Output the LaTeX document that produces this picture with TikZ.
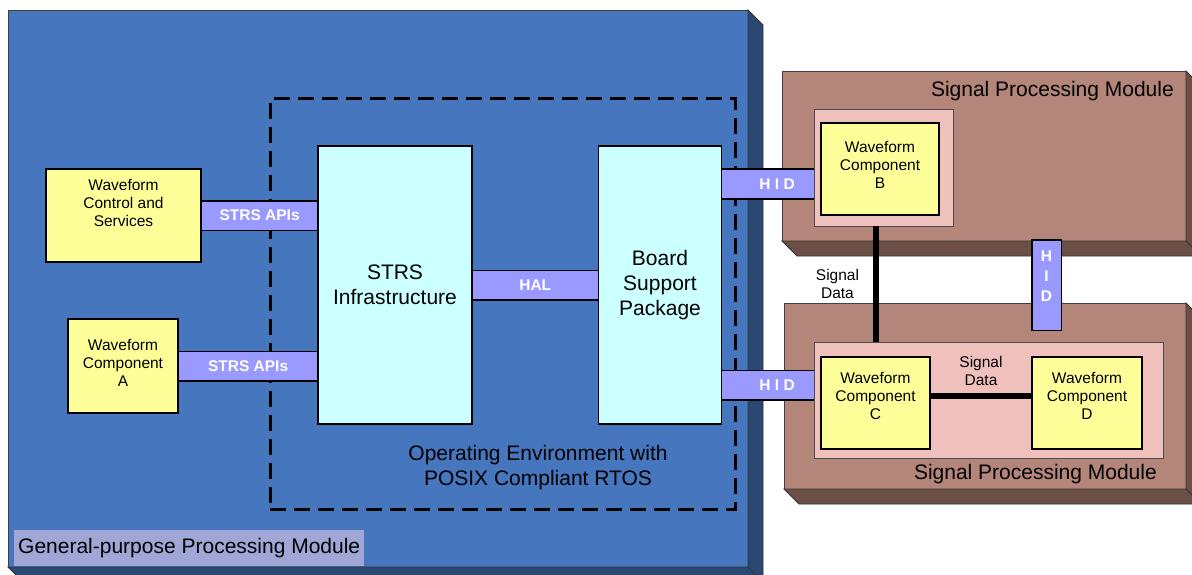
\documentclass[tikz,border=0pt]{standalone}
\usepackage{fontspec}
\setmainfont{Liberation Sans}
\usetikzlibrary{positioning}

\definecolor{gpmblue}{HTML}{4676BE}
\definecolor{gpmdark}{HTML}{2B4873}
\definecolor{gpmtag}{HTML}{A0A6D6}
\definecolor{spmbrown}{HTML}{B4867A}
\definecolor{spmdark}{HTML}{6C4F47}
\definecolor{spmpink}{HTML}{F0C0BC}
\definecolor{wfyellow}{HTML}{FFFF99}
\definecolor{infracyan}{HTML}{CCFFFF}
\definecolor{barblue}{HTML}{9999FF}

\begin{document}
\begin{tikzpicture}[
	x=1pt, y=-1pt,
	module/.style={
		rectangle,
		draw=black!75,
		line width=0.8pt,
		outer sep=0pt,
		inner sep=0pt
	},
	depth/.style={draw=black!80, line width=0.8pt},
	envbox/.style={
		rectangle,
		draw=black,
		line width=3pt,
		dash pattern=on 16pt off 8pt
	},
	holder/.style={rectangle, draw=black!70, fill=spmpink, line width=0.8pt, inner sep=0pt},
	wfbox/.style={rectangle, draw=black, fill=wfyellow, line width=2pt, inner sep=0pt},
	infra/.style={
		rectangle,
		draw=black,
		fill=infracyan,
		line width=1.5pt,
		align=center,
		minimum height=278pt,
		font=\fontsize{21}{25}\selectfont
	},
	smalltext/.style={align=center, inner sep=0pt, font=\fontsize{15.5}{18}\selectfont},
	bigtext/.style={align=center, inner sep=0pt, font=\fontsize{21}{25}\selectfont},
	bar/.style={draw=black, line width=1.5pt, double=barblue, double distance=28pt},
	bartext/.style={text=white, align=center, inner sep=0pt, font=\bfseries\fontsize{15.5}{20}\selectfont},
	sigline/.style={line width=6pt}
]
	\useasboundingbox (0,0) rectangle (1192,575);
	\clip (0,0) rectangle (1192,575);

	% modules
	\node[module, fill=gpmblue, minimum width=740pt, minimum height=557pt] (gpm) at (378,288.5) {};
	\node[module, fill=spmbrown, minimum width=404pt, minimum height=170pt] (spmb) at (984,156) {};
	\node[module, fill=spmbrown, minimum width=402pt, minimum height=186pt] (spmc) at (985,396) {};

	\foreach \m/\c in {gpm/gpmdark, spmb/spmdark, spmc/spmdark}{
		\filldraw[depth, fill=\c] (\m.south west) -- ++(15,15) -- ([shift={(15,15)}]\m.south east)
			-- ([shift={(15,15)}]\m.north east) -- (\m.north east) -- (\m.south east) -- cycle;
		\draw[depth] (\m.south east) -- ++(15,15);
	}

	\node[anchor=south west, fill=gpmtag, inner xsep=4pt, inner ysep=0pt, minimum height=36pt,
		font=\fontsize{21}{25}\selectfont] (gpmlabel) at ([shift={(6,-1)}]gpm.south west) {General-purpose Processing Module};
	\node[bigtext, anchor=east] (spmblabel) at ([shift={(-12,20)}]spmb.north east) {Signal Processing Module};
	\node[bigtext, anchor=east] (spmclabel) at ([shift={(-29,-15)}]spmc.south east) {Signal Processing Module};

	% operating environment
	\node[envbox, minimum width=465pt, minimum height=410pt] (oe) at (502.5,304) {};
	\node[bigtext] (oetext) at (538,467.5) {Operating Environment with\\POSIX Compliant RTOS};

	% boxes
	\node[holder, minimum width=139pt, minimum height=117pt] (pinkb) at (883.5,167.5) {};
	\node[holder, minimum width=349pt, minimum height=116pt] (pinkcd) at (988.5,400) {};

	\node[wfbox, minimum width=155pt, minimum height=93pt] (wcs) at (123.5,215.5) {};
	\node[wfbox, minimum width=110pt, minimum height=94pt] (wca) at (123,366) {};
	\node[wfbox, minimum width=118pt, minimum height=92pt] (wcb) at (880,169) {};
	\node[wfbox, minimum width=109pt, minimum height=92pt] (wcc) at (875.5,403) {};
	\node[wfbox, minimum width=110pt, minimum height=92pt, right=100pt of wcc] (wcd) {};

	\node[smalltext] at ([yshift=12.5pt]wcs.center) {Waveform\\Control and\\Services};
	\node[smalltext] at ([yshift=3pt]wca.center) {Waveform\\Component\\A};
	\node[smalltext] at ([yshift=4.5pt]wcb.center) {Waveform\\Component\\B};
	\node[smalltext] at ([yshift=7.5pt]wcc.center) {Waveform\\Component\\C};
	\node[smalltext] at ([yshift=7.5pt]wcd.center) {Waveform\\Component\\D};

	\node[infra, minimum width=154pt] (strs) at (395,285) {STRS\\Infrastructure};
	\node[infra, minimum width=123pt, right=125pt of strs] (bsp) {Board\\Support\\Package};

	% interfaces
	\draw[bar] (wcs.east) -- (strs.west |- wcs.east) node[midway, bartext] {STRS APIs};
	\draw[bar] (wca.east) -- (strs.west |- wca.east) node[midway, bartext] {STRS APIs};
	\draw[bar] (strs) -- (bsp) node[midway, bartext] {HAL};

	\coordinate (hidb) at ([yshift=-16.5pt]pinkb.west);
	\coordinate (hidc) at ([yshift=15pt]pinkcd.west);
	\draw[bar] (bsp.east |- hidb) -- (hidb) node[pos=0.6, bartext] {H I D};
	\draw[bar] (bsp.east |- hidc) -- (hidc) node[pos=0.6, bartext] {H I D};

	\coordinate (hidtop) at (1046.5,254.5);
	\coordinate (hidbot) at (1046.5,315.5);
	\draw[bar, line cap=rect] (hidtop) -- (hidbot) node[pos=0.35, bartext] {H\\I\\D};

	% signal data
	\coordinate (sdtop) at ([xshift=-7.5pt]pinkb.south);
	\draw[sigline] (sdtop) -- (sdtop |- pinkcd.north) node[midway, left=14pt, smalltext] {Signal\\Data};
	\draw[sigline] ([yshift=7pt]wcc.east) -- ([yshift=7pt]wcd.west) node[midway, above=7pt, smalltext] {Signal\\Data};

\end{tikzpicture}
\end{document}
